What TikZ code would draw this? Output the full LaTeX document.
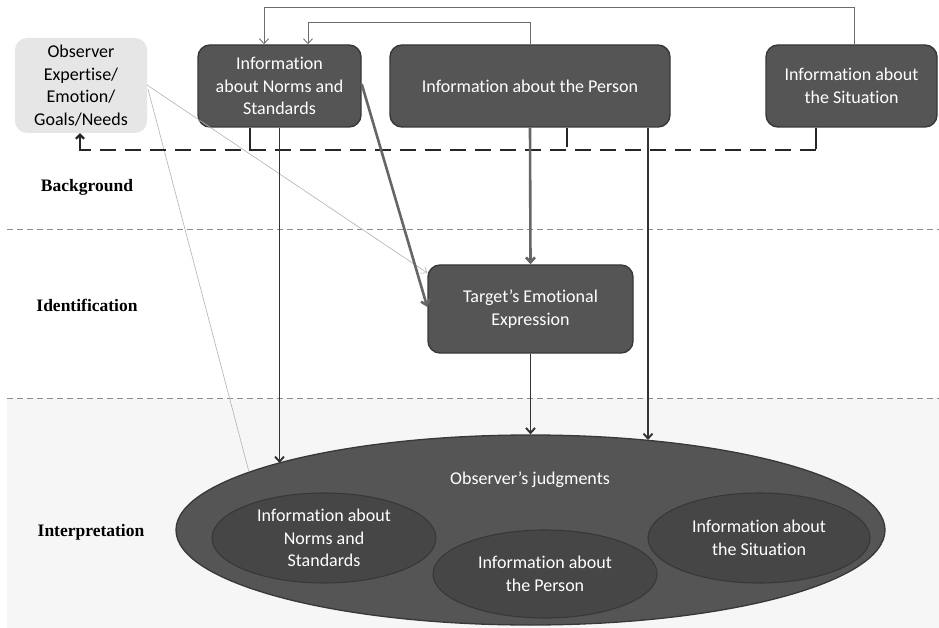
\documentclass[tikz,border=0pt]{standalone}
\usepackage{fontspec}
\setmainfont{Carlito}[Ligatures=NoCommon]
\newfontfamily\labfont{Liberation Serif}
\usetikzlibrary{arrows.meta,shapes.geometric}
\definecolor{boxfill}{HTML}{555555}
\definecolor{boxline}{HTML}{383838}
\definecolor{innerfill}{HTML}{464646}
\definecolor{obsfill}{HTML}{E6E6E6}
\definecolor{bgband}{HTML}{F6F6F6}
\tikzset{
  txt/.style={font=\fontsize{18}{22.5}\selectfont},
  darkbox/.style={txt, draw=boxline, line width=1.4pt, fill=boxfill, rounded corners=12pt, text=white, align=center, inner sep=0pt},
  lightbox/.style={txt, fill=obsfill, rounded corners=12pt, text=black, align=center, inner sep=0pt},
  innerell/.style={txt, ellipse, draw=boxline, line width=1.1pt, fill=innerfill, text=white, align=center, inner sep=0pt},
  tip/.style={-{Straight Barb[length=5pt,width=9pt]}},
  thinconn/.style={draw=gray!85!black, line width=0.8pt},
  mainarr/.style={tip, draw=black!80, line width=1.9pt},
  grayarr/.style={tip, draw=black!60, line width=2.6pt},
  faintarr/.style={draw=black!30, line width=0.6pt},
  dashline/.style={draw=black!85, line width=2.2pt, dash pattern=on 16pt off 9pt},
  stubline/.style={draw=black!85, line width=2pt},
  sepline/.style={draw=black!45, line width=0.8pt, dash pattern=on 6pt off 4pt},
  seclabel/.style={font=\labfont\bfseries\fontsize{17.5}{20}\selectfont, text=black}
}
\begin{document}
\begin{tikzpicture}[x=1pt,y=-1pt]
\useasboundingbox (0,0) rectangle (939,628);
\fill[white] (0,0) rectangle (939,628);
% bottom band
\fill[bgband] (7,398) rectangle (939,628);
% separators
\draw[sepline] (7,229) -- (939,229);
\draw[sepline] (7,398) -- (939,398);
% section labels
\node[seclabel] (lbg) at (87,187) {Background};
\node[seclabel] (lid) at (87,305) {Identification};
\node[seclabel] (lin) at (91,532) {Interpretation};
% top boxes
\node[lightbox, minimum width=132pt, minimum height=95pt] (observer) at (81,85.5) {Observer\\Expertise/\\Emotion/\\Goals/Needs};
\node[darkbox, minimum width=163pt, minimum height=82pt] (norms) at (279.5,86) {Information\\about Norms and\\Standards};
\node[darkbox, minimum width=280pt, minimum height=82pt] (person) at (530,86) {Information about the Person};
\node[darkbox, minimum width=171pt, minimum height=82pt] (situation) at (851.5,86) {Information about\\the Situation};
\node[darkbox, minimum width=205pt, minimum height=88pt] (target) at (530.5,309) {Target’s Emotional\\Expression};
% big ellipse
\node[ellipse, draw=boxline, line width=1.3pt, fill=boxfill, minimum width=709pt, minimum height=190pt, inner sep=0pt] (judg) at (530.5,530) {};
\node[txt, text=white] (judglabel) at (530,480) {Observer’s judgments};
\node[innerell, minimum width=224pt, minimum height=90pt] (inorms) at (324,538) {Information about\\Norms and\\Standards};
\node[innerell, minimum width=224pt, minimum height=88pt] (iperson) at (545,574) {Information about\\the Person};
\node[innerell, minimum width=222pt, minimum height=90pt] (isit) at (759,538) {Information about\\the Situation};
% end points on the big ellipse
\coordinate (eNorms) at (279.5,463);
\coordinate (ePerson) at (648,440);
\coordinate (eObs) at (249,472);
% faint lines from observer
\coordinate (obsA) at (147,85);
\coordinate (obsB) at (148,89);
\draw[faintarr, -{Straight Barb[length=5pt,width=8pt]}] (obsA) -- ([yshift=36pt]target.west);
\draw[faintarr] (obsB) -- (eObs);
% top feedback connectors
\draw[thinconn, tip] ([xshift=2.5pt]situation.north) -- ++(0,-37) -| ([xshift=-15.5pt]norms.north);
\draw[thinconn, tip] (person.north) -- ++(0,-22) -| ([xshift=28.5pt]norms.north);
% dashed feedback to observer
\coordinate (dashR) at (816,150);
\draw[stubline] ([xshift=-29.5pt]norms.south) -- ++(0,23);
\draw[stubline] ([xshift=37pt]person.south) -- ++(0,19);
\draw[stubline] ([xshift=-35.5pt]situation.south) -- ++(0,21);
\draw[dashline] (dashR) -- (86,150);
\draw[draw=black!85, line width=2.2pt, -{Straight Barb[length=4pt,width=8pt]}] (86,150) -| ([xshift=-1pt]observer.south);
% main arrows
\draw[mainarr] (norms.south) -- (eNorms);
\draw[grayarr] (person.south) -- (target.north);
\draw[mainarr] ([xshift=118pt]person.south) -- (ePerson);
\draw[mainarr] (target.south) -- (judg.north);
\draw[grayarr] ([yshift=2pt]norms.east) -- ([yshift=2pt]target.west);
\end{tikzpicture}
\end{document}
